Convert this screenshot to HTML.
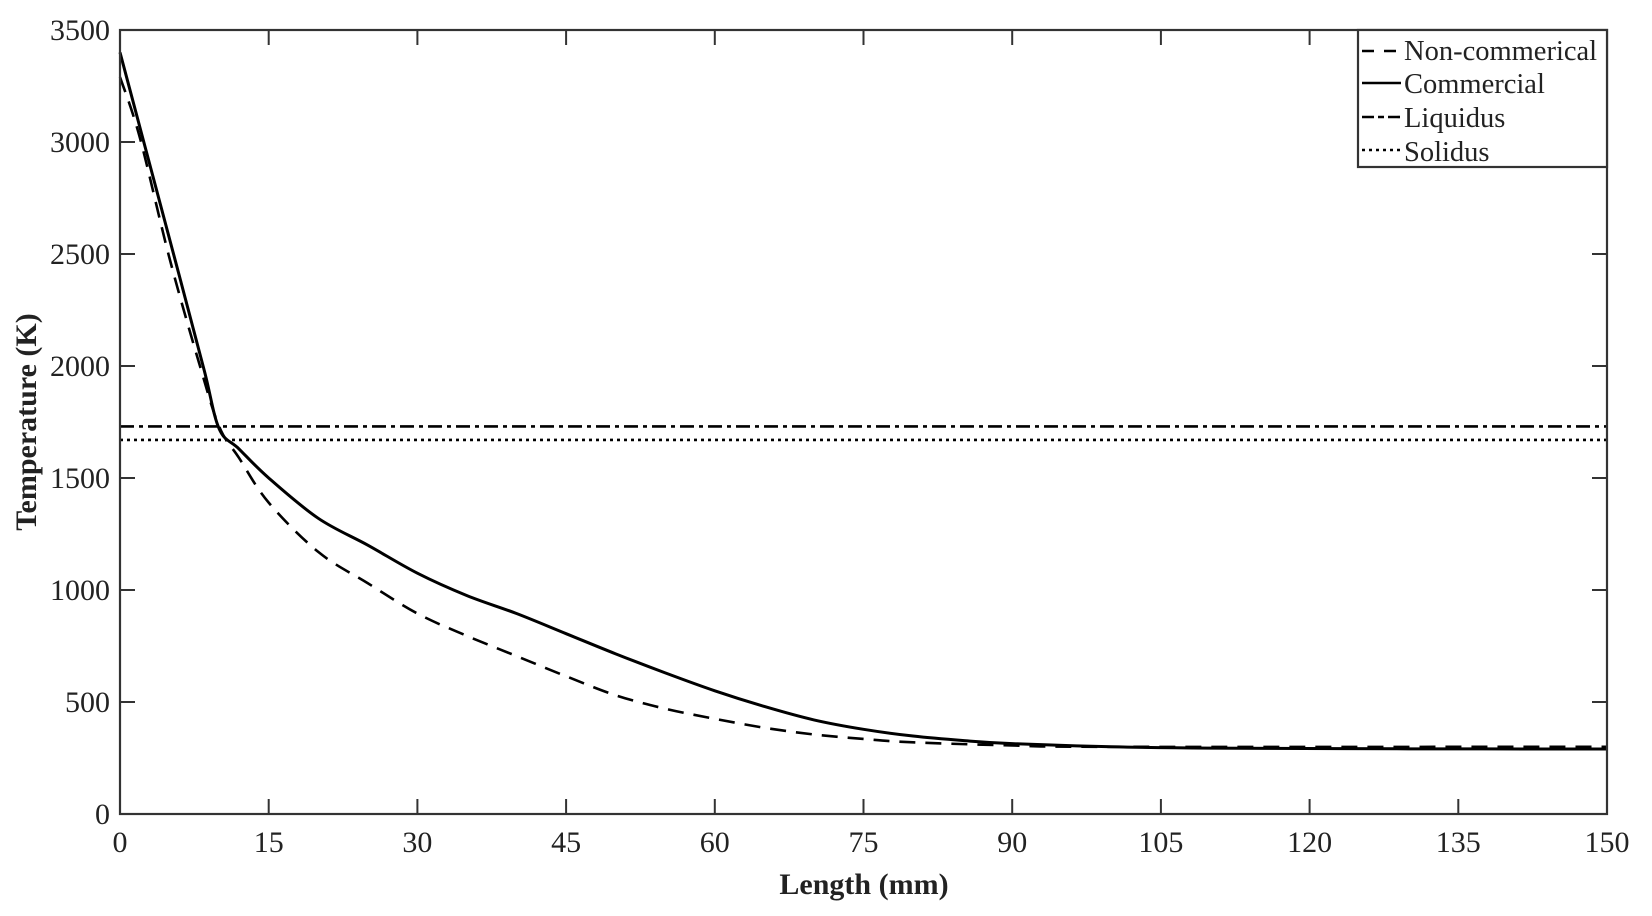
<!DOCTYPE html>
<html><head><meta charset="utf-8"><style>
html,body{margin:0;padding:0;background:#fff}
svg{display:block}
text{font-family:"Liberation Serif",serif;fill:#222}
</style></head><body>
<svg id="s" width="1652" height="916" viewBox="0 0 1652 916" xmlns="http://www.w3.org/2000/svg">
<rect width="1652" height="916" fill="#fff"/>
<g id="ticks" stroke="#333" stroke-width="2"></g>
<g id="labels" font-size="30"></g>
<path id="comm" fill="none" stroke="#000" stroke-width="3"/>
<path id="non" fill="none" stroke="#000" stroke-width="2.6" stroke-dasharray="16,10"/>
<line x1="120" x2="1607" id="liq" stroke="#000" stroke-width="2.6" stroke-dasharray="14,5,4,5"/>
<line x1="120" x2="1607" id="sol" stroke="#000" stroke-width="2.6" stroke-dasharray="3,4"/>
<rect x="120" y="30" width="1487" height="784" fill="none" stroke="#333" stroke-width="2.2"/>
<text x="864" y="894" text-anchor="middle" font-size="30" font-weight="bold">Length (mm)</text>
<text transform="translate(36,422) rotate(-90)" text-anchor="middle" font-size="30" font-weight="bold">Temperature  (K)</text>
<rect x="1358" y="30" width="249" height="137" fill="#fff" stroke="#333" stroke-width="2.2"/>
<line x1="1362" x2="1401" y1="51" y2="51" stroke="#000" stroke-width="2.6" stroke-dasharray="12,10"/>
<line x1="1362" x2="1401" y1="83" y2="83" stroke="#000" stroke-width="2.6"/>
<line x1="1362" x2="1401" y1="117" y2="117" stroke="#000" stroke-width="2.6" stroke-dasharray="12,4,6,4"/>
<line x1="1362" x2="1401" y1="150" y2="150" stroke="#000" stroke-width="2.6" stroke-dasharray="3,4"/>
<g font-size="28.5">
<text x="1404" y="60">Non-commerical</text>
<text x="1404" y="93">Commercial</text>
<text x="1404" y="127">Liquidus</text>
<text x="1404" y="161">Solidus</text>
</g>
</svg>
<script>
var X=function(v){return 120+v*1487/150},Y=function(v){return 814-v*784/3500};
var t=document.getElementById('ticks'),l=document.getElementById('labels'),ns='http://www.w3.org/2000/svg';
function el(p,n,a,txt){var e=document.createElementNS(ns,n);for(var k in a)e.setAttribute(k,a[k]);if(txt!=null)e.textContent=txt;p.appendChild(e);}
for(var v=0;v<=150;v+=15){var x=X(v);el(t,'line',{x1:x,x2:x,y1:814,y2:799});el(t,'line',{x1:x,x2:x,y1:30,y2:45});el(l,'text',{x:x,y:852,'text-anchor':'middle'},v);}
for(var v=0;v<=3500;v+=500){var y=Y(v);el(t,'line',{x1:120,x2:135,y1:y,y2:y});el(t,'line',{x1:1607,x2:1592,y1:y,y2:y});el(l,'text',{x:110,y:y+10,'text-anchor':'end'},v);}
['liq','sol'].forEach(function(id,i){var y=Y(i?1670:1730);var e=document.getElementById(id);e.setAttribute('y1',y);e.setAttribute('y2',y);});
function path(d){var p=d.map(function(q){return [X(q[0]),Y(q[1])]});var s='M'+p[0][0]+','+p[0][1];
for(var i=0;i<p.length-1;i++){var p0=p[i-1]||p[i],p1=p[i],p2=p[i+1],p3=p[i+2]||p2;
s+=' C'+(p1[0]+(p2[0]-p0[0])/6)+','+(p1[1]+(p2[1]-p0[1])/6)+' '+(p2[0]-(p3[0]-p1[0])/6)+','+(p2[1]-(p3[1]-p1[1])/6)+' '+p2[0]+','+p2[1];}return s;}
document.getElementById('comm').setAttribute('d',path([[0,3400],[3,2900],[6,2400],[8.5,1980],[10,1720],[12,1630],[15,1500],[20,1320],[25,1200],[30,1075],[35,975],[40,895],[45,805],[50,715],[55,630],[60,550],[65,480],[70,420],[75,378],[80,348],[85,328],[90,314],[100,300],[110,294],[130,291],[150,290]]));
document.getElementById('non').setAttribute('d',path([[0,3290],[2,3020],[5,2480],[8,2010],[10,1730],[12,1590],[15,1390],[20,1170],[25,1030],[30,895],[35,795],[40,705],[45,615],[50,530],[55,470],[60,425],[65,385],[70,355],[75,335],[80,320],[90,306],[100,300],[150,300]]));
</script>
</body></html>
